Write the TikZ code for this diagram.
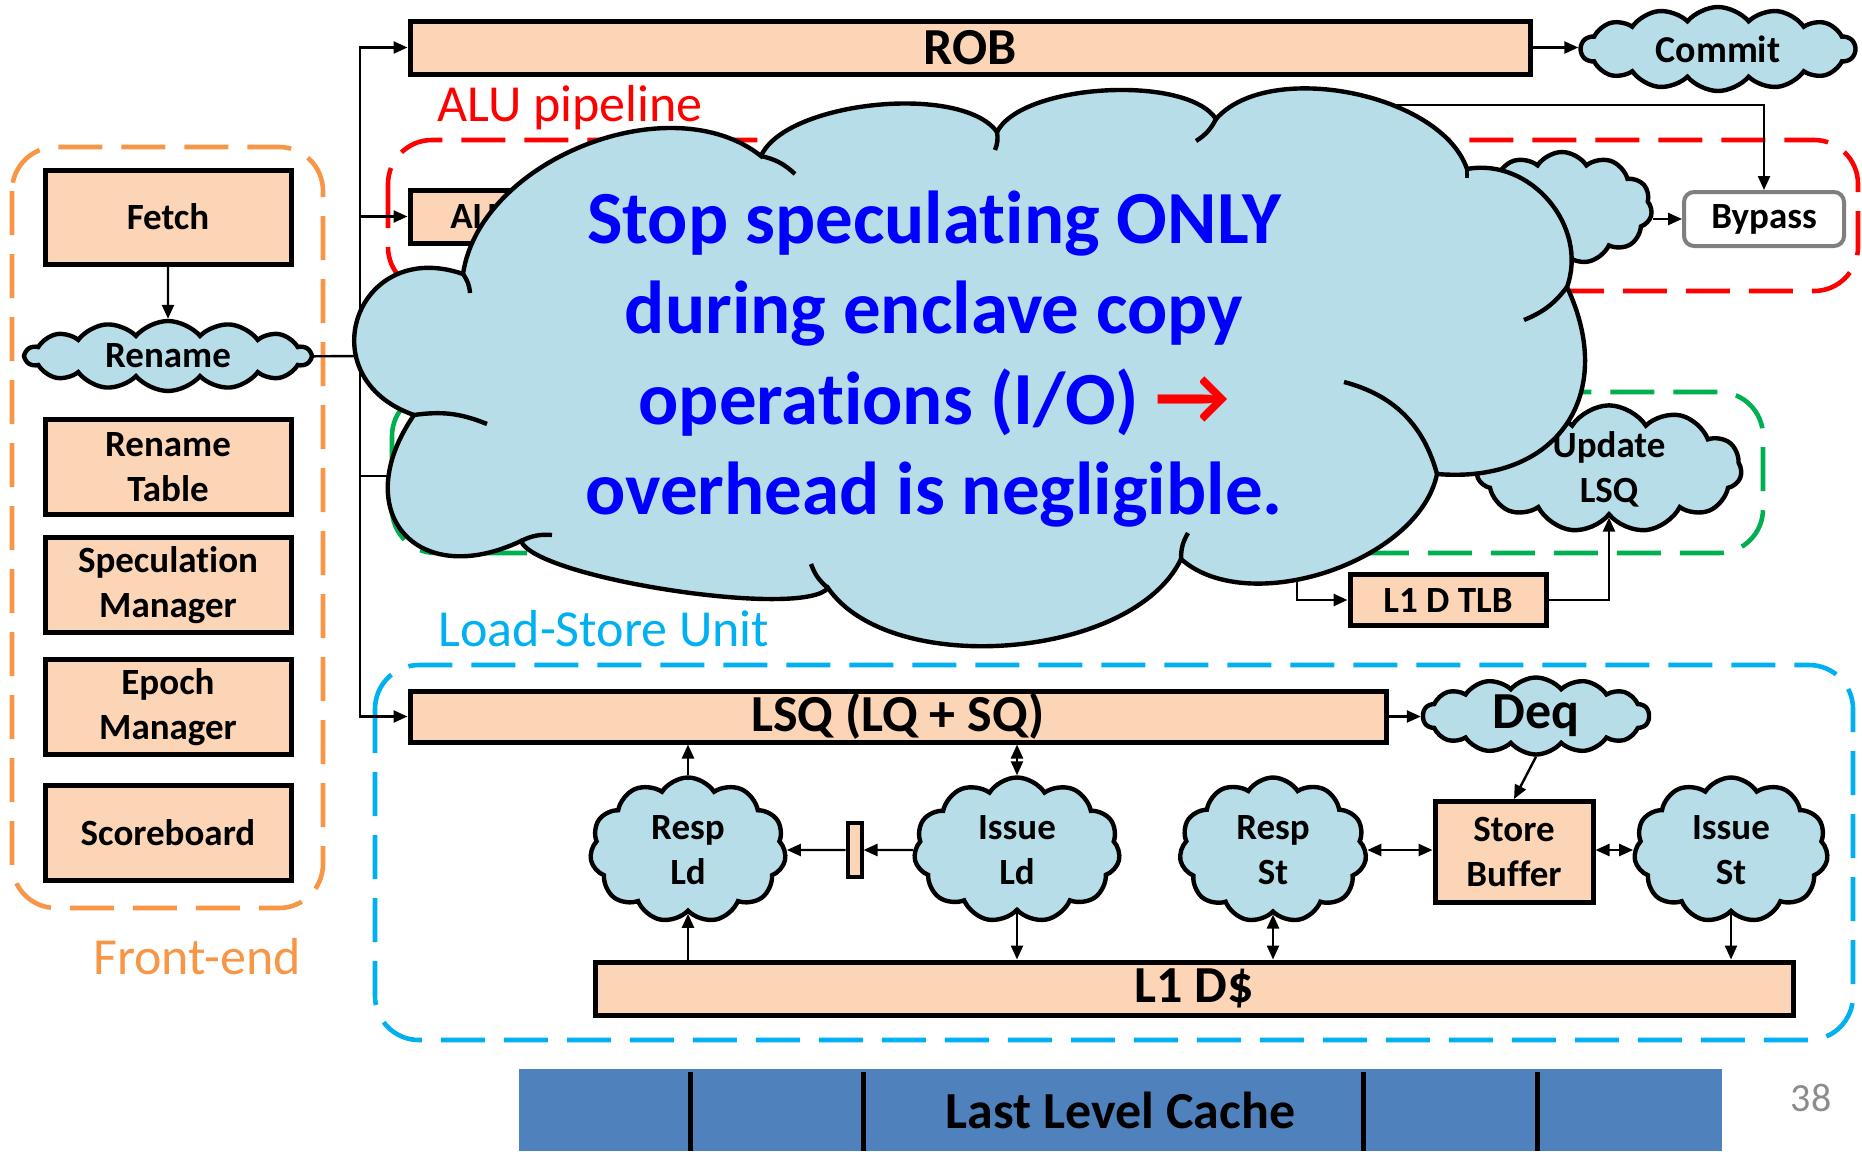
\documentclass[tikz,border=0pt]{standalone}
\usepackage{fontspec}
\setmainfont{Carlito}[Ligatures=NoCommon]
\usepackage{xcolor}
\usetikzlibrary{arrows.meta, shapes.symbols, calc, positioning}

\definecolor{boxfill}{HTML}{FBD5B5}
\definecolor{cloudfill}{HTML}{B7DEE8}
\definecolor{feorange}{HTML}{F79646}
\definecolor{alured}{HTML}{FF0000}
\definecolor{memgreen}{HTML}{00B050}
\definecolor{lsucyan}{HTML}{00B0F0}
\definecolor{llcblue}{HTML}{4F81BD}
\definecolor{msgblue}{HTML}{0000FF}
\definecolor{bypassgray}{HTML}{7F7F7F}
\definecolor{pagegray}{HTML}{8C8C8C}

\begin{document}
\begin{tikzpicture}[x=0.5pt, y=-0.5pt]
  \tikzstyle{unit}=[draw, line width=2.5pt, fill=boxfill, inner sep=0pt, align=center, font=\bfseries\fontsize{18.5}{22.5}\selectfont]%
  \tikzstyle{puff}=[cloud, cloud puffs=11, cloud puff arc=115, cloud ignores aspect, draw, line width=2.2pt, fill=cloudfill, inner sep=0pt, align=center, font=\bfseries\fontsize{18.5}{22.5}\selectfont]%
  \tikzstyle{flatpuff}=[puff, cloud puffs=14, cloud puff arc=100]%
  \tikzstyle{wire}=[line width=1.2pt, -{Triangle[length=7pt, width=6pt]}]%
  \tikzstyle{wirex}=[line width=1.2pt, {Triangle[length=7pt, width=6pt]}-{Triangle[length=7pt, width=6pt]}]%
  \tikzstyle{group}=[line width=2.3pt, dash pattern=on 22pt off 9.5pt, rounded corners=22pt]%
  \tikzstyle{grouplabel}=[font=\fontsize{26}{30}\selectfont, inner sep=0pt]%
  \tikzstyle{outline}=[line width=2.2pt]%

  \useasboundingbox (0,0) rectangle (1862,1151);

  % Dashed groups
  \draw[group, feorange] (12,147) rectangle (323,908);
  \draw[group, alured] (388,140) rectangle (1858,291);
  \draw[group, memgreen] (392,392) rectangle (1763,553);
  \draw[group, lsucyan] (375,665) rectangle (1853,1040);
  \node[grouplabel, text=feorange] (felabel) at (197,957) {Front-end};
  \node[grouplabel, text=alured] (alulabel) at (570,108) {ALU pipeline};
  \node[grouplabel, text=lsucyan] (lsulabel) at (604,629) {Load-Store Unit};

  % Front-end
  \node[unit, minimum width=123pt, minimum height=47pt] (fetch) at (168,217) {Fetch};
  \node[flatpuff, minimum width=142.5pt, minimum height=35pt] (rename) at (168,356) {Rename};
  \node[unit, minimum width=123pt, minimum height=47.5pt] (rtab) at (168,467) {Rename\\Table};
  \node[unit, minimum width=123pt, minimum height=47.5pt] (specm) at (168,585) {Speculation\\Manager};
  \node[unit, minimum width=123pt, minimum height=47.5pt] (epochm) at (168,707) {Epoch\\Manager};
  \node[unit, minimum width=123pt, minimum height=47.5pt] (score) at (168,833) {Scoreboard};

  % ROB and ALU pipeline
  \node[unit, minimum width=560pt, minimum height=26.5pt, font=\bfseries\fontsize{26}{30}\selectfont] (rob) at (970,47.5) {ROB};
  \node[flatpuff, minimum width=137pt, minimum height=42pt, font=\bfseries\fontsize{19}{22}\selectfont] (commit) at (1718,49) {Commit};
  \node[unit, minimum width=71pt, minimum height=26.5pt] (alu) at (481,216.5) {ALU};
  \node[puff, minimum width=90pt, minimum height=56pt] (wb) at (1562,208) {};
  \node[draw=bypassgray, line width=2pt, rounded corners=5pt, fill=white, minimum width=80pt, minimum height=27pt, font=\bfseries\fontsize{18.5}{22}\selectfont] (bypass) at (1764,219) {Bypass};

  % Memory pipeline
  \coordinate (agu) at (420,476);
  \node[puff, minimum width=132.5pt, minimum height=59pt] (updlsq) at (1609,469) {Update\\LSQ};
  \node[unit, minimum width=98pt, minimum height=25.5pt] (tlb) at (1448,600) {L1 D TLB};

  % Load-Store Unit
  \node[unit, minimum width=488pt, minimum height=25.5pt, font=\bfseries\fontsize{26}{30}\selectfont] (lsq) at (898,716.5) {LSQ (LQ + SQ)};
  \node[flatpuff, minimum width=113pt, minimum height=38.5pt, font=\bfseries\fontsize{26}{30}\selectfont] (deq) at (1536,716) {Deq};
  \node[puff, minimum width=98pt, minimum height=72.5pt] (respld) at (688,850) {Resp\\Ld};
  \node[unit, line width=2pt, minimum width=7pt, minimum height=27pt] (latch) at (854.5,850) {};
  \node[puff, minimum width=103pt, minimum height=72.5pt] (issueld) at (1017,850) {Issue\\Ld};
  \node[puff, minimum width=93.5pt, minimum height=72.5pt] (respst) at (1273,850) {Resp\\St};
  \node[unit, minimum width=79pt, minimum height=50.5pt] (sb) at (1514,852) {Store\\Buffer};
  \node[puff, minimum width=97pt, minimum height=72.5pt] (issuest) at (1731,850) {Issue\\St};
  \node[unit, minimum width=599pt, minimum height=26.5pt, font=\bfseries\fontsize{26}{30}\selectfont] (l1d) at (1194,988.5) {L1 D\$};

  % Last level cache
  \node[fill=llcblue, inner sep=0pt, minimum width=601.5pt, minimum height=41pt, font=\bfseries\fontsize{26}{30}\selectfont] (llc) at (1120.5,1110) {Last Level Cache};
  \foreach \x in {690,863,1363,1537}
    \draw[line width=2.5pt] (\x,1072) -- (\x,1151);
  \node[font=\fontsize{20}{24}\selectfont, text=pagegray] (pagenum) at (1811,1098) {38};

  % Connectors
  \draw[wire] (fetch) -- (rename);
  \coordinate (bus) at (360,356);
  \draw[line width=1.2pt] (rename.east) -- (bus);
  \draw[wire] (bus) |- (rob.west);
  \draw[wire] (bus) |- (alu.west);
  \draw[wire] (bus) |- (agu);
  \draw[wire] (bus) |- (lsq.west);
  \draw[wire] (rob.east) -- (rob.east -| commit.west);

  \coordinate (bypin) at (1300,105);
  \draw[wire] (bypin) -| (bypass.north);
  \draw[wire] (bypass.west -| wb.east) -- (bypass.west);

  \coordinate (tlbin) at (1297,560);
  \draw[wire] (tlbin) |- (tlb.west);
  \draw[wire] (tlb.east) -| (updlsq.south);

  \draw[wire] (lsq.east) -- (lsq.east -| deq.west);
  \draw[wire] (deq.south) -- (sb.north);
  \draw[wire] (respld.north) -- (respld.north |- lsq.south);
  \draw[wire] (respld.south |- l1d.north) -- (respld.south);
  \draw[wirex] (issueld.north) -- (issueld.north |- lsq.south);
  \draw[wire] (issueld.south) -- (issueld.south |- l1d.north);
  \draw[wire] (issueld.west) -- (latch.east);
  \draw[wire] (latch.west) -- (respld.east);
  \draw[wirex] (respst.south) -- (respst.south |- l1d.north);
  \draw[wirex] (respst.east) -- (respst.east -| sb.west);
  \draw[wirex] (issuest.west -| sb.east) -- (issuest.west);
  \draw[wire] (issuest.south) -- (issuest.south |- l1d.north);

  % The big message cloud (lobes between cusps)
  \coordinate (ca) at (761,156);
  \coordinate (cj) at (997,132);
  \coordinate (ck) at (1216,119);
  \coordinate (ci) at (1467,169);
  \coordinate (ch) at (1567,287);
  \coordinate (cg) at (1437,474);
  \coordinate (cf) at (1181,559);
  \coordinate (ce) at (828,588);
  \coordinate (cd) at (521,541);
  \coordinate (cc) at (414,415);
  \coordinate (cb) at (463,274);
  \draw[outline, fill=cloudfill]
    (cb) to[bend left=60, looseness=0.92] (ca)
    to[bend left=60, looseness=0.65] (cj)
    to[bend left=60, looseness=0.63] (ck)
    to[bend left=60, looseness=0.8] (ci)
    to[bend left=60, looseness=1.07] (ch)
    to[bend left=60, looseness=1.35] (cg)
    to[bend left=60, looseness=0.85] (cf)
    to[bend left=60, looseness=0.8] (ce)
    to[bend left=60, looseness=0.33] (cd)
    to[bend left=75, looseness=1.8] (cc)
    to[bend left=90, looseness=1.94] (cb) -- cycle;
  % inner arcs
  \draw[outline] (ca) to[bend left=15] (795,174);
  \draw[outline] (cj) to[bend left=15] (995,150);
  \draw[outline] (ck) to[bend left=15] (1196,141);
  \draw[outline] (ci) -- (1467,178);
  \draw[outline] (ch) to[bend left=15] (1524,320);
  \draw[outline] (cg) to[bend right=30] (1344,382);
  \draw[outline] (cf) to[bend left=15] (1188,533);
  \draw[outline] (ce) to[bend left=15] (811,564);
  \draw[outline] (cd) to[bend left=15] (552,535);
  \draw[outline] (cc) to[bend left=15] (487,424);
  \draw[outline] (cb) to[bend left=15] (470,293);
  \node[font=\bfseries\fontsize{37.5}{45.2}\selectfont, text=msgblue, align=center] (msg) at (934,359)
    {Stop speculating ONLY\\during enclave copy\\operations (I/O) {\color{alured}\fontsize{41}{45.2}\selectfont →}\\overhead is negligible.};
\end{tikzpicture}
\end{document}
